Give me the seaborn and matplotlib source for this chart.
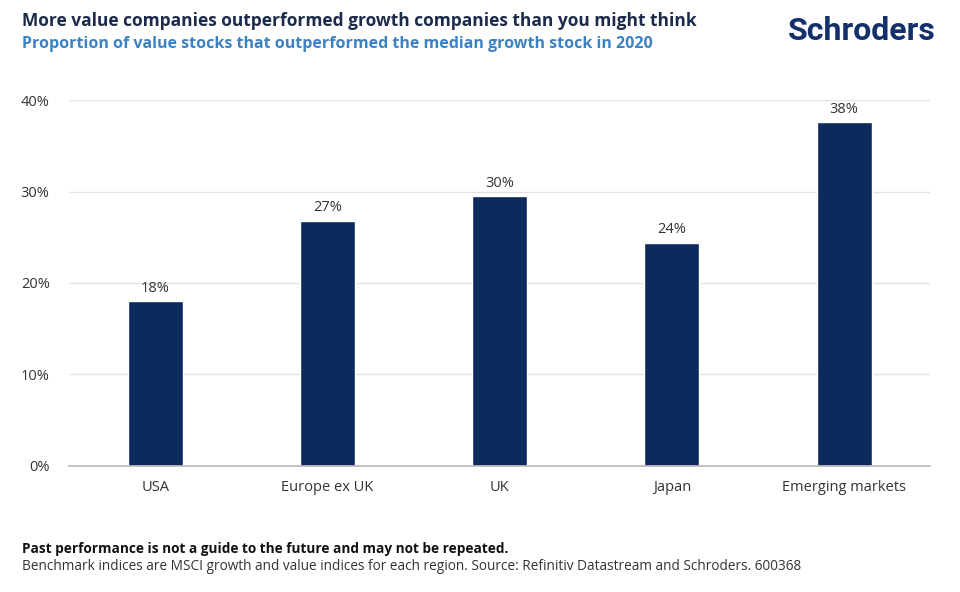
import matplotlib
matplotlib.use('Agg')
import matplotlib.pyplot as plt
import seaborn as sns
import pandas as pd

regions = ['USA', 'Europe ex UK', 'UK', 'Japan', 'Emerging markets']
share = [18.0, 26.8, 29.5, 24.4, 37.6]
value_labels = ['18%', '27%', '30%', '24%', '38%']
y_ticks = [0, 10, 20, 30, 40]

navy = '#0c2a5b'
blue = '#3b82c4'

sns.set_theme(style='white')
plt.rcParams['font.family'] = ['Open Sans', 'DejaVu Sans']

df = pd.DataFrame({'region': regions, 'share': share})

fig = plt.figure(figsize=(9.6, 5.92), dpi=100)
ax = fig.add_axes([0.072, 0.213, 0.897, 0.618])

sns.barplot(data=df, x='region', y='share', color=navy, width=0.32,
            saturation=1, ax=ax)

for i, (v, lab) in enumerate(zip(share, value_labels)):
    ax.text(i, v + 0.6, lab, ha='center', va='bottom', fontsize=10.5, color='#333333')

ax.set_ylim(0, 40)
ax.set_xlim(-0.5, 4.5)
ax.set_yticks(y_ticks)
ax.set_yticklabels([f'{t}%' for t in y_ticks])
ax.yaxis.grid(True, color='#e3e3e3', linewidth=1)
ax.set_axisbelow(True)
ax.set_xlabel('')
ax.set_ylabel('')
for s in ['top', 'right', 'left']:
    ax.spines[s].set_visible(False)
ax.spines['bottom'].set_color('#bbbbbb')
ax.tick_params(axis='both', length=0, labelsize=10.5, labelcolor='#333333')
ax.tick_params(axis='x', pad=10)
ax.tick_params(axis='y', pad=14)

fig.text(0.023, 0.965, 'More value companies outperformed growth companies than you might think',
         fontsize=12.5, fontweight='bold', color='#1c2b4a', va='center')
fig.text(0.023, 0.925, 'Proportion of value stocks that outperformed the median growth stock in 2020',
         fontsize=11.5, fontweight='bold', color=blue, va='center')
fig.text(0.975, 0.948, 'Schroders', fontsize=23, fontweight='bold', color='#13306b',
         ha='right', va='center', family=['Roboto', 'DejaVu Sans'])

fig.text(0.023, 0.072, 'Past performance is not a guide to the future and may not be repeated.',
         fontsize=9.8, fontweight='bold', color='#111111', va='center')
fig.text(0.023, 0.043, 'Benchmark indices are MSCI growth and value indices for each region. '
         'Source: Refinitiv Datastream and Schroders. 600368',
         fontsize=9.85, color='#333333', va='center')

fig.savefig('out.png', dpi=100, facecolor='white')
